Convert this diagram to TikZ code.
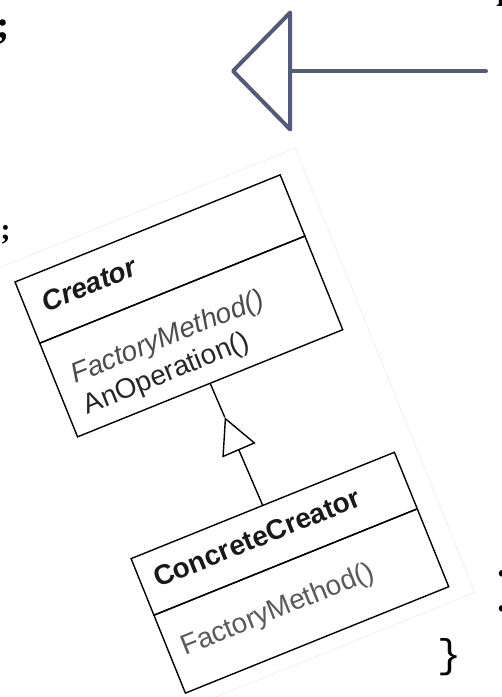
\documentclass[tikz,border=0pt]{standalone}
\usepackage{fontspec}
\setmainfont{Liberation Serif}
\setsansfont{Liberation Sans}
\setmonofont{Liberation Mono}
\usetikzlibrary{arrows.meta,calc,positioning}
\definecolor{arrowblue}{HTML}{525C7A}

\begin{document}
\begin{tikzpicture}[x=1pt, y=-1pt,
   bigarrow/.style={draw=arrowblue, line width=4pt, line cap=round, line join=round,
      -{Triangle[open, length=62pt, width=126pt, round]}},
   classbox/.style={draw, line width=1.4pt, inner sep=0pt, outer sep=0pt, align=left,
      font=\sffamily\fontsize{28}{33}\selectfont},
   umlline/.style={draw, line width=1.4pt},
   imgedge/.style={draw=black!8, line width=0.6pt},
   codefrag/.style={inner sep=0pt, font=\bfseries\fontsize{40}{40}\selectfont}]

\useasboundingbox (0,0) rectangle (502,697);

% big arrow
\coordinate (tail) at (486,71);
\coordinate (head) at (231,71);
\draw[bigarrow] (tail) -- (head);

% bits of text at the edges
\node[codefrag, anchor=base west] (semi1) at (-4,38) {;};
\node[codefrag, anchor=base west, font=\bfseries\fontsize{30}{30}\selectfont] (semi2) at (-8,239) {l;};
\node[codefrag, anchor=base west] (topmark) at (496,6) {l};
\node[codefrag, anchor=base west] (dot1) at (497,576) {.};
\node[codefrag, anchor=base west] (dot2) at (497,611) {.};
\node[inner sep=0pt, font=\ttfamily\fontsize{40}{40}\selectfont] (brace) at (449,657) {\}};

% rotated class diagram
\begin{scope}[shift={(15,282)}, rotate=22, transform shape]
  \draw[imgedge] (-40,-19) -- (310,-19) -- (310,460) -- (-40,460);

  \node[classbox, anchor=north west, minimum width=286pt, minimum height=66pt,
        text width=250pt, text depth=6pt, font=\sffamily\bfseries\itshape\fontsize{28}{33}\selectfont,
        text=black!90] (creator) at (0,0) {Creator};
  \node[classbox, below=0pt of creator, minimum width=286pt, minimum height=101pt,
        text width=250pt, text depth=20pt, text=black!85]
        (creatorops) {\textcolor{black!70}{\itshape FactoryMethod()}\\AnOperation()};

  \node[classbox, anchor=north west, minimum width=284pt, minimum height=61pt,
        text width=256pt, text depth=6pt, font=\sffamily\bfseries\fontsize{28}{33}\selectfont,
        text=black!90] (concrete) at (4,300) {ConcreteCreator};
  \node[classbox, below=0pt of concrete, minimum width=284pt, minimum height=84pt,
        text width=256pt, text=black!65] (concreteops) {FactoryMethod()};

  \draw[umlline] (creatorops.south) -- ($(creatorops.south)!37pt!(concrete.north)$) coordinate (apex);
  \draw[umlline, -{Triangle[open, length=36pt, width=36pt]}] (concrete.north) -- (apex);
\end{scope}

\end{tikzpicture}
\end{document}
